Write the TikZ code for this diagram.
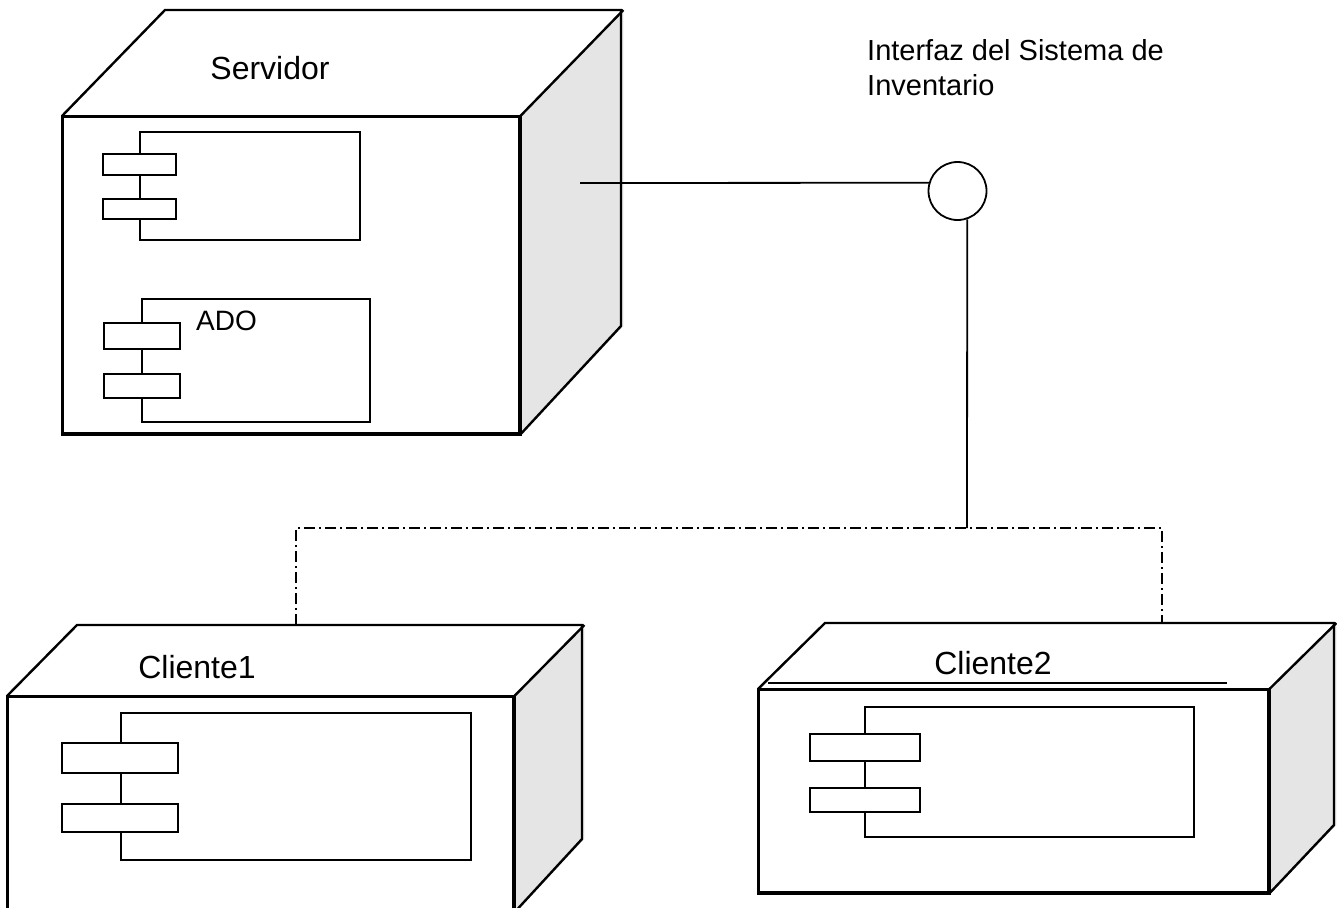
\documentclass[tikz,border=0pt]{standalone}
\usepackage{fontspec}
\setmainfont{Liberation Sans}
\begin{document}
\begin{tikzpicture}[x=1pt,y=-1pt,
  front/.style={draw,line width=2.4pt,rectangle,inner sep=0,anchor=north west,fill=white},
  edge/.style={line width=2.4pt,line join=miter},
  sideface/.style={fill=black!10},
  comp/.style={draw,line width=2pt,rectangle,inner sep=0,anchor=north west},
  port/.style={draw,line width=2pt,rectangle,inner sep=0,anchor=north west,fill=white},
  lbl/.style={font=\fontsize{32}{38}\selectfont,inner sep=0},
  conn/.style={line width=1.8pt},
  dep/.style={line width=1.6pt,dash pattern=on 11pt off 4pt on 2pt off 4pt}]
\useasboundingbox (0,0) rectangle (1337,907);

% ---------------- Servidor ----------------
\node[front,minimum width=456pt,minimum height=316pt] (srv) at (62,116) {};
\fill[sideface] (srv.north east) -- ++(103,-106) -- ++(0,316) -- (srv.south east) -- cycle;
\draw[edge] (srv.north west) -- ++(103,-106) -- ++(456,0) -- ++(0,316) -- (srv.south east);
\draw[edge] (srv.north east) -- ++(103,-106);
\draw[edge] (srv.north west) rectangle (srv.south east);
\node[lbl] (srvlbl) at (270,68) {Servidor};

\node[comp,minimum width=220pt,minimum height=108pt] (sc1) at (139,131) {};
\node[port,minimum width=73pt,minimum height=21pt] (sc1p1) at (102,153) {};
\node[port,minimum width=73pt,minimum height=20pt] (sc1p2) at (102,198) {};

\node[comp,minimum width=228pt,minimum height=123pt] (sc2) at (141,298) {};
\node[port,minimum width=76pt,minimum height=26pt] (sc2p1) at (103,322) {};
\node[port,minimum width=76pt,minimum height=24pt] (sc2p2) at (103,373) {};
\node[lbl,font=\fontsize{28}{34}\selectfont,anchor=west] (ado) at (196,321) {ADO};

% ---------------- Interface ----------------
\node[draw,circle,line width=1.8pt,minimum size=58pt,inner sep=0] (iface) at (957.5,191) {};
\node[lbl,font=\fontsize{29}{35}\selectfont,align=left,anchor=north west] (ifacelbl) at (867,39) {Interfaz del Sistema de\\Inventario};
\coordinate (srvport) at (580,183);
\draw[conn] (srvport) -- (iface.164);
\coordinate (junction) at (967,528);
\draw[conn] (iface.-71) -- (junction);

% ---------------- Cliente1 ----------------
\node[front,minimum width=505pt,minimum height=214pt] (cl1) at (7,696) {};
\fill[sideface] (cl1.north east) -- ++(70,-71) -- ++(0,214) -- (cl1.south east) -- cycle;
\draw[edge] (cl1.north west) -- ++(70,-71) -- ++(505,0) -- ++(0,214) -- (cl1.south east);
\draw[edge] (cl1.north east) -- ++(70,-71);
\draw[edge] (cl1.north west) rectangle (cl1.south east);
\node[lbl] (cl1lbl) at (197,667) {Cliente1};

\node[comp,minimum width=350pt,minimum height=147pt] (cc1) at (120,712) {};
\node[port,minimum width=116pt,minimum height=30pt] (cc1p1) at (61,742) {};
\node[port,minimum width=116pt,minimum height=28pt] (cc1p2) at (61,803) {};

% ---------------- Cliente2 ----------------
\node[front,minimum width=509pt,minimum height=202pt] (cl2) at (758,689) {};
\fill[sideface] (cl2.north east) -- ++(67,-66) -- ++(0,202) -- (cl2.south east) -- cycle;
\draw[edge] (cl2.north west) -- ++(67,-66) -- ++(509,0) -- ++(0,202) -- (cl2.south east);
\draw[edge] (cl2.north east) -- ++(67,-66);
\draw[edge] (cl2.north west) rectangle (cl2.south east);
\node[lbl] (cl2lbl) at (993,663) {Cliente2};
\draw[line width=1.8pt] (768,683) -- (1227,683);

\node[comp,minimum width=329pt,minimum height=130pt] (cc2) at (864,706) {};
\node[port,minimum width=110pt,minimum height=27pt] (cc2p1) at (809,733) {};
\node[port,minimum width=110pt,minimum height=24pt] (cc2p2) at (809,787) {};

% ---------------- Dependencies ----------------
\coordinate (c1top) at (296,625);
\coordinate (c2top) at (1162,623);
\draw[dep] (c1top) -- (296,528) -| (c2top);
\end{tikzpicture}
\end{document}
